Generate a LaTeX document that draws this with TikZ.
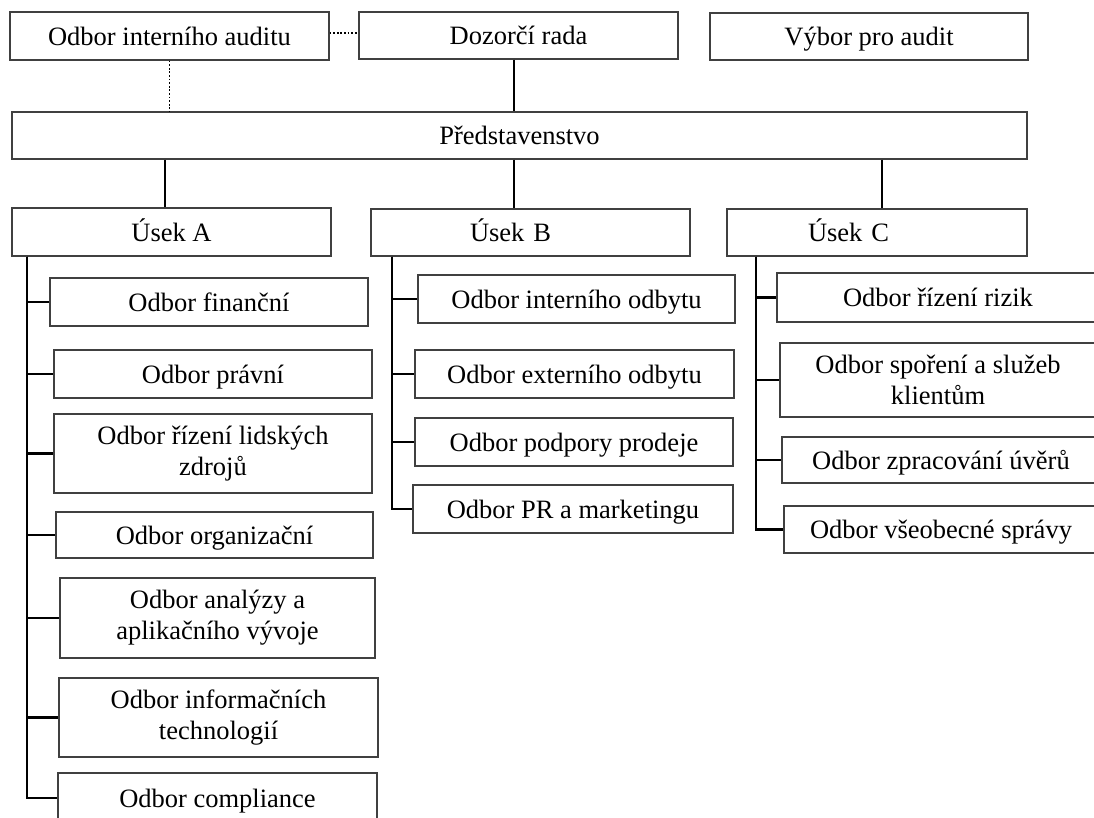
\documentclass[tikz,border=0pt]{standalone}
\usepackage{fontspec}
\setmainfont{Liberation Serif}
\begin{document}
\begin{tikzpicture}[x=1pt, y=-1pt,
    box/.style={draw=black!75, line width=1.3pt, fill=white, inner sep=0pt,
        align=center, font=\fontsize{26.5}{31}\selectfont},
    onebox/.style={box, text height=18.5pt, text depth=0pt},
    link/.style={line width=2.4pt},
    dotlink/.style={line width=1.8pt, dash pattern=on 1.8pt off 1.8pt}]
    \useasboundingbox (0,0) rectangle (1094,817);
    \clip (0,0) rectangle (1094,817);

    % top level
    \node[onebox, minimum width=319pt, minimum height=48pt] (audit) at (169.5,36) {Odbor interního auditu};
    \node[onebox, minimum width=319pt, minimum height=47pt] (dozor) at (518.5,35.5) {Dozorčí rada};
    \node[onebox, minimum width=318pt, minimum height=47pt] (vybor) at (869,36.5) {Výbor pro audit};
    \node[onebox, minimum width=1015pt, minimum height=47pt] (pred) at (519.5,135.5) {Představenstvo};

    \node[onebox, minimum width=319pt, minimum height=48pt] (usekA) at (171.5,232) {Úsek A};
    \node[onebox, minimum width=319pt, minimum height=47pt, text width=121pt, inner xsep=99pt, align=left]
        (usekB) at (530.5,232.5) {Úsek B};
    \node[onebox, minimum width=300pt, minimum height=47pt, text width=138pt, inner xsep=81pt, align=left]
        (usekC) at (877,232.5) {Úsek C};

    % odbory A
    \node[onebox, minimum width=318pt, minimum height=48pt] (finA) at (209,302) {Odbor finanční};
    \node[onebox, minimum width=318pt, minimum height=48pt] (pravA) at (213,374) {Odbor právní};
    \node[box, minimum width=318pt, minimum height=79pt] (lidA) at (213,453.5) {Odbor řízení lidských\\zdrojů};
    \node[onebox, minimum width=317pt, minimum height=46pt] (orgA) at (214.5,535) {Odbor organizační};
    \node[box, minimum width=315pt, minimum height=80pt] (anaA) at (217.5,618) {Odbor analýzy a\\aplikačního vývoje};
    \node[box, minimum width=319pt, minimum height=79pt] (infA) at (218.5,717.5) {Odbor informačních\\technologií};
    \node[onebox, minimum width=319pt, minimum height=50pt] (compA) at (217.5,798) {Odbor compliance};

    % odbory B
    \node[onebox, minimum width=317pt, minimum height=48pt] (intB) at (576.5,299) {Odbor interního odbytu};
    \node[onebox, minimum width=319pt, minimum height=48pt] (extB) at (574.5,374) {Odbor externího odbytu};
    \node[onebox, minimum width=318pt, minimum height=48pt] (podB) at (574,442) {Odbor podpory prodeje};
    \node[onebox, minimum width=320pt, minimum height=48pt] (prB) at (573,509) {Odbor PR a marketingu};

    % odbory C
    \node[onebox, minimum width=322pt, minimum height=49pt] (rizC) at (938,297.5) {Odbor řízení rizik};
    \node[box, minimum width=316pt, minimum height=74pt] (sporC) at (938,380) {Odbor spoření a služeb\\klientům};
    \node[onebox, minimum width=318pt, minimum height=46pt] (zprC) at (941,460) {Odbor zpracování úvěrů};
    \node[onebox, minimum width=314pt, minimum height=47pt] (vseC) at (941,529.5) {Odbor všeobecné správy};

    % spojnice
    \coordinate (jA) at (165,0);
    \coordinate (jB) at (514,0);
    \coordinate (jC) at (882,0);
    \coordinate (sA) at (27,0);
    \coordinate (sB) at (392,0);
    \coordinate (sC) at (756,0);

    \draw[dotlink] (audit.east) ++(0,-3) -- (dozor.west |- 0,33);
    \draw[dotlink] (audit.south) -- (pred.north -| audit.south);
    \draw[link] (dozor.south -| jB) -- (pred.north -| jB);

    \draw[link] (pred.south -| jA) -- (usekA.north -| jA);
    \draw[link] (pred.south -| jB) -- (usekB.north -| jB);
    \draw[link] (pred.south -| jC) -- (usekC.north -| jC);

    \foreach \n in {finA,pravA,lidA,orgA,anaA,infA,compA}
        \draw[link] (usekA.south -| sA) |- (\n.west);
    \foreach \n in {intB,extB,podB,prB}
        \draw[link] (usekB.south -| sB) |- (\n.west);
    \foreach \n in {rizC,sporC,zprC,vseC}
        \draw[link] (usekC.south -| sC) |- (\n.west);
\end{tikzpicture}
\end{document}
